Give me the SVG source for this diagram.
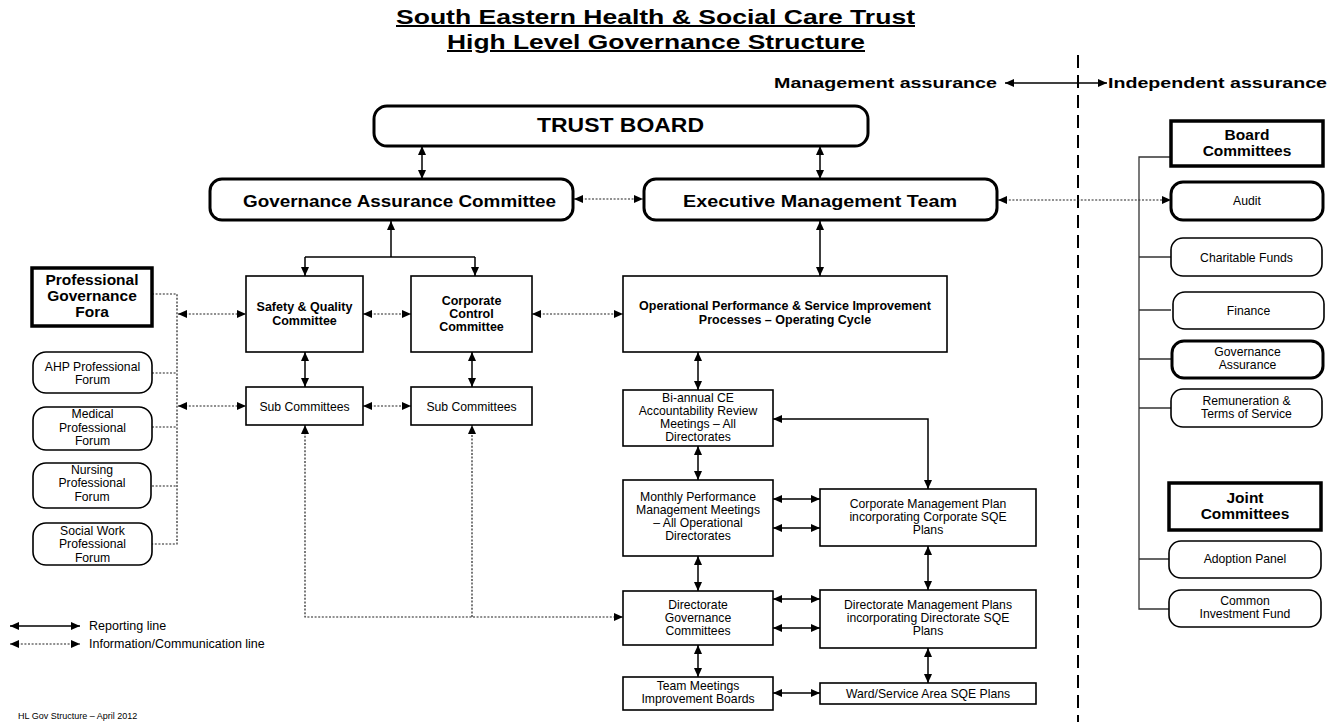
<svg xmlns="http://www.w3.org/2000/svg" width="1342" height="727" viewBox="0 0 1342 727">
<style>
text{font-family:"Liberation Sans",Arial,sans-serif;fill:#000;}
.t{font-size:12.2px;text-anchor:middle;}
.tb{font-size:12.5px;font-weight:bold;text-anchor:middle;}
.hb{font-size:15.5px;font-weight:bold;text-anchor:middle;}
.big{font-size:17px;font-weight:bold;text-anchor:middle;}
.box{fill:#fff;stroke:#000;stroke-width:1.6;}
.rbox{fill:#fff;stroke:#000;stroke-width:1.6;}
.rthick{fill:#fff;stroke:#000;stroke-width:3;}
.hbox{fill:#fff;stroke:#000;stroke-width:3.5;}
.sol{fill:none;stroke:#000;stroke-width:1.5;}
.dot{fill:none;stroke:#222;stroke-width:1.2;stroke-dasharray:2 1.6;}
.tree{fill:none;stroke:#333;stroke-width:1.3;}
.arr{marker-start:url(#ah);marker-end:url(#ah);}
.arre{marker-end:url(#ah);}
</style>
<defs>
<marker id="ah" markerUnits="userSpaceOnUse" markerWidth="10" markerHeight="10" refX="9" refY="4" orient="auto-start-reverse">
<path d="M0,0 L9,4 L0,8 z" fill="#000"/>
</marker>
</defs>

<g id="title">
<text x="655.5" y="24" font-size="20" font-weight="bold" text-anchor="middle" text-decoration="underline" textLength="519" lengthAdjust="spacingAndGlyphs">South Eastern Health &amp; Social Care Trust</text>
<text x="656" y="49" font-size="20" font-weight="bold" text-anchor="middle" text-decoration="underline" textLength="418" lengthAdjust="spacingAndGlyphs">High Level Governance Structure</text>
</g>

<g id="assurance-labels">
<text x="774" y="88" font-size="15.5" font-weight="bold" textLength="223" lengthAdjust="spacingAndGlyphs">Management assurance</text>
<text x="1108" y="88" font-size="15.5" font-weight="bold" textLength="219" lengthAdjust="spacingAndGlyphs">Independent assurance</text>
<line x1="1078" y1="55" x2="1078" y2="722" stroke="#000" stroke-width="2" stroke-dasharray="13 7"/>
</g>

<g id="connectors">
<line class="sol arr" x1="1005" y1="83" x2="1107" y2="83"/>
<line class="sol arr" x1="422" y1="146" x2="422" y2="179"/>
<line class="sol arr" x1="820" y1="146" x2="820" y2="179"/>
<line class="dot arr" x1="574" y1="199" x2="643" y2="199"/>
<line class="dot arr" x1="998" y1="200" x2="1171" y2="200"/>
<line class="sol arr" x1="820" y1="221" x2="820" y2="276"/>
<path class="sol arre" d="M391,257 L391,221"/>
<path class="sol" d="M305,257 L475,257"/>
<path class="sol arre" d="M305,257 L305,276"/>
<path class="sol arre" d="M475,257 L475,276"/>
<path class="dot" d="M152,294 H177 V544 H152 M152,373 H177 M152,427 H177 M152,486 H177"/>
<line class="dot arr" x1="178" y1="314" x2="246" y2="314"/>
<line class="dot arr" x1="178" y1="406" x2="246" y2="406"/>
<line class="dot arr" x1="363" y1="314" x2="411" y2="314"/>
<line class="dot arr" x1="363" y1="406" x2="411" y2="406"/>
<line class="dot arr" x1="532" y1="314" x2="623" y2="314"/>
<line class="sol arr" x1="305" y1="352" x2="305" y2="387"/>
<line class="sol arr" x1="472" y1="352" x2="472" y2="387"/>
<path class="dot arr" d="M305,425 V617 H623"/>
<path class="dot arre" d="M472,617 V425"/>
<line class="sol arr" x1="698" y1="352" x2="698" y2="390"/>
<line class="sol arr" x1="698" y1="446" x2="698" y2="480"/>
<line class="sol arr" x1="698" y1="556" x2="698" y2="591"/>
<line class="sol arr" x1="698" y1="645" x2="698" y2="677"/>
<path class="sol arr" d="M773,419 H928 V489"/>
<line class="sol arr" x1="773" y1="499" x2="820" y2="499"/>
<line class="sol arr" x1="773" y1="528" x2="820" y2="528"/>
<line class="sol arr" x1="928" y1="546" x2="928" y2="590"/>
<line class="sol arr" x1="773" y1="599" x2="820" y2="599"/>
<line class="sol arr" x1="773" y1="628" x2="820" y2="628"/>
<line class="sol arr" x1="928" y1="648" x2="928" y2="683"/>
<line class="sol arr" x1="773" y1="693" x2="820" y2="693"/>
<path class="tree" d="M1171,157 H1139 V609 H1171 M1139,257 H1171 M1139,310 H1171 M1139,359 H1171 M1139,408 H1171 M1139,559 H1171"/>
</g>

<g id="trust-board">
<rect class="rthick" x="374" y="106" width="494" height="40" rx="13"/>
<text x="620.5" y="132" font-size="20" font-weight="bold" text-anchor="middle" textLength="167" lengthAdjust="spacingAndGlyphs">TRUST BOARD</text>
</g>
<g id="gac">
<rect class="rthick" x="210" y="179" width="363" height="41" rx="12"/>
<text x="399.5" y="207" class="big" textLength="313" lengthAdjust="spacingAndGlyphs">Governance Assurance Committee</text>
</g>
<g id="emt">
<rect class="rthick" x="644" y="179" width="353" height="41" rx="12"/>
<text x="820" y="207" class="big" textLength="274" lengthAdjust="spacingAndGlyphs">Executive Management Team</text>
</g>

<g id="prof-fora">
<rect class="hbox" x="32" y="268" width="120" height="58"/>
<text class="hb" x="92" y="285">Professional</text>
<text class="hb" x="92" y="301">Governance</text>
<text class="hb" x="92" y="317">Fora</text>
</g>
<g id="ahp">
<rect class="rbox" x="33" y="352" width="119" height="41" rx="13"/>
<text class="t" x="92.5" y="370.5">AHP Professional</text>
<text class="t" x="92.5" y="384">Forum</text>
</g>
<g id="medical">
<rect class="rbox" x="33" y="407" width="119" height="43" rx="13"/>
<text class="t" x="92.5" y="418">Medical</text>
<text class="t" x="92.5" y="431.5">Professional</text>
<text class="t" x="92.5" y="445">Forum</text>
</g>
<g id="nursing">
<rect class="rbox" x="33" y="463" width="118" height="45" rx="13"/>
<text class="t" x="92" y="473.5">Nursing</text>
<text class="t" x="92" y="487">Professional</text>
<text class="t" x="92" y="500.5">Forum</text>
</g>
<g id="socialwork">
<rect class="rbox" x="33" y="523" width="119" height="42" rx="13"/>
<text class="t" x="92.5" y="534.5">Social Work</text>
<text class="t" x="92.5" y="548">Professional</text>
<text class="t" x="92.5" y="561.5">Forum</text>
</g>

<g id="safety-quality">
<rect class="box" x="246" y="276" width="117" height="76"/>
<text class="tb" x="304.5" y="311">Safety &amp; Quality</text>
<text class="tb" x="304.5" y="324.5">Committee</text>
</g>
<g id="corporate-control">
<rect class="box" x="411" y="276" width="121" height="76"/>
<text class="tb" x="471.5" y="304.5">Corporate</text>
<text class="tb" x="471.5" y="317.5">Control</text>
<text class="tb" x="471.5" y="330.5">Committee</text>
</g>
<g id="sub-left">
<rect class="box" x="246" y="387" width="117" height="38"/>
<text class="t" x="304.5" y="410.5">Sub Committees</text>
</g>
<g id="sub-right">
<rect class="box" x="411" y="387" width="121" height="38"/>
<text class="t" x="471.5" y="410.5">Sub Committees</text>
</g>

<g id="operational">
<rect class="box" x="623" y="276" width="324" height="76"/>
<text class="tb" x="785" y="310">Operational Performance &amp; Service Improvement</text>
<text class="tb" x="785" y="323.5">Processes – Operating Cycle</text>
</g>
<g id="biannual">
<rect class="box" x="623" y="390" width="150" height="56"/>
<text class="t" x="698" y="401.5">Bi-annual CE</text>
<text class="t" x="698" y="414.5">Accountability Review</text>
<text class="t" x="698" y="427.5">Meetings – All</text>
<text class="t" x="698" y="440.5">Directorates</text>
</g>
<g id="monthly">
<rect class="box" x="623" y="480" width="150" height="76"/>
<text class="t" x="698" y="500.5">Monthly Performance</text>
<text class="t" x="698" y="513.5">Management Meetings</text>
<text class="t" x="698" y="526.5">– All Operational</text>
<text class="t" x="698" y="539.5">Directorates</text>
</g>
<g id="directorate-gov">
<rect class="box" x="623" y="591" width="150" height="54"/>
<text class="t" x="698" y="608.5">Directorate</text>
<text class="t" x="698" y="621.5">Governance</text>
<text class="t" x="698" y="634.5">Committees</text>
</g>
<g id="team-meetings">
<rect class="box" x="623" y="677" width="150" height="33"/>
<text class="t" x="698" y="690">Team Meetings</text>
<text class="t" x="698" y="703">Improvement Boards</text>
</g>
<g id="corp-mgmt-plan">
<rect class="box" x="820" y="489" width="216" height="57"/>
<text class="t" x="928" y="508">Corporate Management Plan</text>
<text class="t" x="928" y="521">incorporating Corporate SQE</text>
<text class="t" x="928" y="534">Plans</text>
</g>
<g id="dir-mgmt-plans">
<rect class="box" x="820" y="590" width="216" height="58"/>
<text class="t" x="928" y="608.5">Directorate Management Plans</text>
<text class="t" x="928" y="621.5">incorporating Directorate SQE</text>
<text class="t" x="928" y="634.5">Plans</text>
</g>
<g id="ward">
<rect class="box" x="820" y="683" width="216" height="21"/>
<text class="t" x="928" y="697.5">Ward/Service Area SQE Plans</text>
</g>

<g id="board-committees">
<rect class="hbox" x="1171" y="121" width="152" height="45"/>
<text class="hb" x="1247" y="140">Board</text>
<text class="hb" x="1247" y="156">Committees</text>
</g>
<g id="audit">
<rect class="rthick" x="1171" y="182" width="152" height="38" rx="12"/>
<text class="t" x="1247" y="205">Audit</text>
</g>
<g id="charitable">
<rect class="rbox" x="1171" y="238" width="151" height="38" rx="12"/>
<text class="t" x="1246.5" y="261.5">Charitable Funds</text>
</g>
<g id="finance">
<rect class="rbox" x="1173" y="292" width="151" height="37" rx="12"/>
<text class="t" x="1248.5" y="315">Finance</text>
</g>
<g id="gov-assurance">
<rect class="rthick" x="1172" y="341" width="151" height="37" rx="12"/>
<text class="t" x="1247.5" y="355.5">Governance</text>
<text class="t" x="1247.5" y="369">Assurance</text>
</g>
<g id="remuneration">
<rect class="rbox" x="1171" y="389" width="151" height="38" rx="12"/>
<text class="t" x="1246.5" y="404.5">Remuneration &amp;</text>
<text class="t" x="1246.5" y="418">Terms of Service</text>
</g>
<g id="joint-committees">
<rect class="hbox" x="1169" y="483" width="152" height="47"/>
<text class="hb" x="1245" y="503">Joint</text>
<text class="hb" x="1245" y="519">Committees</text>
</g>
<g id="adoption">
<rect class="rbox" x="1169" y="541" width="152" height="37" rx="12"/>
<text class="t" x="1245" y="563">Adoption Panel</text>
</g>
<g id="common-investment">
<rect class="rbox" x="1169" y="590" width="152" height="37" rx="12"/>
<text class="t" x="1245" y="604.5">Common</text>
<text class="t" x="1245" y="618">Investment Fund</text>
</g>

<g id="legend">
<line class="sol arr" x1="10" y1="626" x2="80" y2="626"/>
<text x="89" y="630" font-size="12.5">Reporting line</text>
<line class="dot arr" x1="10" y1="644" x2="80" y2="644"/>
<text x="89" y="648" font-size="12.5">Information/Communication line</text>
<text x="18" y="719" font-size="9">HL Gov Structure – April 2012</text>
</g>
</svg>
